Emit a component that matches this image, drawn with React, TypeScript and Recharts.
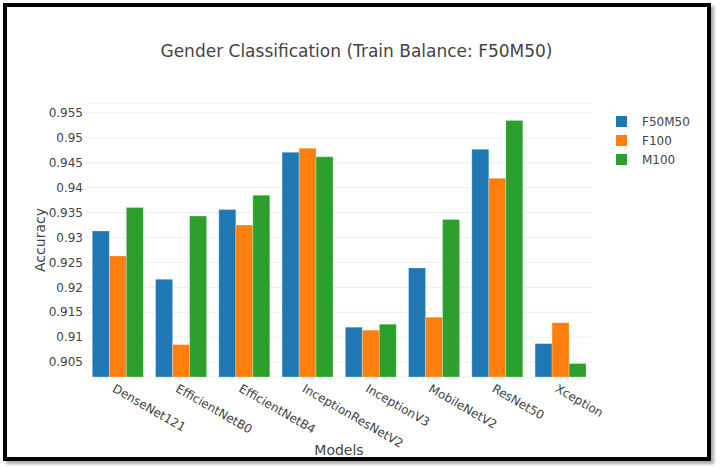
import React from "react";
import { BarChart, Bar, XAxis, YAxis, CartesianGrid } from "recharts";

const models = [
  "DenseNet121",
  "EfficientNetB0",
  "EfficientNetB4",
  "InceptionResNetV2",
  "InceptionV3",
  "MobileNetV2",
  "ResNet50",
  "Xception",
];
const f50m50 = [0.9313, 0.9216, 0.9356, 0.9471, 0.912, 0.9239, 0.9477, 0.9087];
const f100 = [0.9263, 0.9085, 0.9325, 0.9479, 0.9114, 0.914, 0.9419, 0.9129];
const m100 = [0.9360, 0.9343, 0.9385, 0.9462, 0.9126, 0.9336, 0.9535, 0.9047];
const yTicks = [0.905, 0.91, 0.915, 0.92, 0.925, 0.93, 0.935, 0.94, 0.945, 0.95, 0.955];

const series = [
  { key: "F50M50", values: f50m50, color: "#1f77b4" },
  { key: "F100", values: f100, color: "#ff7f0e" },
  { key: "M100", values: m100, color: "#2ca02c" },
];

const data = models.map((m, i) => ({
  model: m,
  F50M50: f50m50[i],
  F100: f100[i],
  M100: m100[i],
}));

const FONT = "'DejaVu Sans', Verdana, sans-serif";
const TEXT = "#444";

// rotated category labels, like plotly's tickangle=30
function ModelTick(props: any) {
  const { x, y, payload } = props;
  const tx = x - 6;
  const ty = y + 6;
  return (
    <text
      x={tx}
      y={ty}
      transform={`rotate(30 ${tx} ${ty})`}
      textAnchor="start"
      fontSize={12}
      fontFamily={FONT}
      fill={TEXT}
    >
      {payload.value}
    </text>
  );
}

function AccuracyLabel(props: any) {
  const vb = props.viewBox || { x: 0, y: 0, height: 0 };
  const cx = vb.x + 4;
  const cy = vb.y + vb.height / 2;
  return (
    <text
      x={cx}
      y={cy}
      transform={`rotate(-90 ${cx} ${cy})`}
      textAnchor="middle"
      dominantBaseline="central"
      fontSize={14}
      fontFamily={FONT}
      fill={TEXT}
    >
      Accuracy
    </text>
  );
}

function LegendBox() {
  return (
    <div style={{ fontFamily: FONT, fontSize: 12, color: TEXT }}>
      {series.map((s) => (
        <div key={s.key} style={{ display: "flex", alignItems: "center", height: 19 }}>
          <span
            style={{
              display: "inline-block",
              width: 11,
              height: 11,
              background: s.color,
              marginRight: 15,
            }}
          />
          <span>{s.key}</span>
        </div>
      ))}
    </div>
  );
}

export default function App() {
  return (
    <div
      style={{
        position: "absolute",
        left: 0,
        top: 0,
        width: 720,
        height: 470,
        background: "#fff",
        overflow: "hidden",
      }}
    >
      <div
        style={{
          position: "absolute",
          left: 3,
          top: 3,
          width: 708,
          height: 458,
          border: "4px solid #000",
          boxSizing: "border-box",
          boxShadow: "3px 3px 3px #aaa",
        }}
      />
      <div
        style={{
          position: "absolute",
          left: 0,
          top: 41,
          width: 713,
          textAlign: "center",
          fontFamily: FONT,
          fontSize: 17,
          color: TEXT,
        }}
      >
        Gender Classification (Train Balance: F50M50)
      </div>
      <div style={{ position: "absolute", left: 0, top: 0 }}>
        <BarChart
          width={720}
          height={470}
          data={data}
          margin={{ top: 103, right: 128, left: 36, bottom: 63 }}
          barCategoryGap="10%"
          barGap={0}
        >
          <CartesianGrid vertical={false} stroke="#ebeef2" strokeWidth={1} />
          <XAxis
            dataKey="model"
            interval={0}
            tickLine={false}
            axisLine={false}
            height={30}
            tick={<ModelTick />}
            label={{
              value: "Models",
              position: "insideBottom",
              offset: -48,
              fontSize: 14,
              fontFamily: FONT,
              fill: TEXT,
            }}
          />
          <YAxis
            type="number"
            domain={[0.902, 0.957]}
            ticks={yTicks}
            interval={0}
            allowDataOverflow
            width={50}
            tickLine={false}
            axisLine={false}
            tickSize={0}
            tickMargin={3}
            tickFormatter={(v: number) => String(Number(v.toFixed(3)))}
            tick={{ fontSize: 12, fontFamily: FONT, fill: TEXT }}
            label={<AccuracyLabel />}
          />
          {series.map((s) => (
            <Bar
              key={s.key}
              dataKey={s.key}
              fill={s.color}
              stroke="#ffffff"
              strokeOpacity={0.5}
              strokeWidth={0.5}
              isAnimationActive={false}
            />
          ))}
        </BarChart>
      </div>
      <div style={{ position: "absolute", left: 616, top: 112 }}>
        <LegendBox />
      </div>
    </div>
  );
}
